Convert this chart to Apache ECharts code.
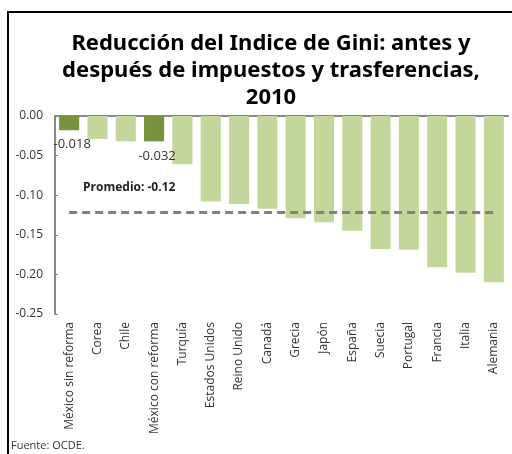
<!DOCTYPE html>
<html>
<head>
<meta charset="utf-8">
<script src="https://cdn.jsdelivr.net/npm/echarts@6/dist/echarts.min.js"></script>
<style>
  html, body { margin: 0; padding: 0; background: #fff; }
  #chart { width: 512px; height: 454px; }
</style>
</head>
<body>
<div id="chart"></div>
<script>
const countries = ['México sin reforma', 'Corea', 'Chile', 'México con reforma', 'Turquía', 'Estados Unidos',
  'Reino Unido', 'Canadá', 'Grecia', 'Japón', 'España', 'Suecia', 'Portugal', 'Francia', 'Italia', 'Alemania']
const reduction = [-0.018, -0.029, -0.032, -0.032, -0.061, -0.108, -0.111, -0.117, -0.129, -0.134, -0.145,
  -0.168, -0.169, -0.191, -0.198, -0.21]
const highlighted = ['México sin reforma', 'México con reforma']
const average = -0.122

const chart = echarts.init(document.getElementById('chart'))

const options = {
  animation: false,
  title: {
    text: 'Reducción del Indice de Gini: antes y\ndespués de impuestos y trasferencias,\n2010',
    left: 266,
    top: 25,
    textAlign: 'center',
    textStyle: { fontFamily: 'Noto Sans', fontWeight: 'bold', fontSize: 22, lineHeight: 27, color: '#000' }
  },
  graphic: [
    { type: 'rect', shape: { x: 8, y: 12, width: 520, height: 460 }, style: { fill: 'none', stroke: '#000', lineWidth: 2 }, silent: true },
    { type: 'text', left: 11, top: 440, style: { text: 'Fuente: OCDE.', font: '11px "Open Sans"', fill: '#333' } },
    { type: 'text', left: 83, top: 182, style: { text: 'Promedio: -0.12', font: 'bold 12px "Open Sans"', fill: '#222' } }
  ],
  grid: { left: 55, right: 4, top: 116, bottom: 140, containLabel: false },
  xAxis: [{
    type: 'category',
    data: countries,
    position: 'bottom',
    axisLine: { show: false },
    axisTick: { show: false },
    axisLabel: { rotate: 90, margin: 8, fontFamily: 'Open Sans', fontSize: 12, color: '#333', interval: 0 }
  }, {
    type: 'category',
    data: countries,
    position: 'top',
    axisLine: { show: true, lineStyle: { color: '#888', width: 2 } },
    axisTick: { show: false },
    axisLabel: { show: false }
  }],
  yAxis: {
    type: 'value',
    min: -0.25,
    max: 0,
    interval: 0.05,
    axisLine: { show: true, lineStyle: { color: '#888', width: 2 } },
    axisTick: { show: true, inside: true, length: 3, lineStyle: { color: '#888' } },
    splitLine: { show: false },
    axisLabel: {
      fontFamily: 'Open Sans', fontSize: 12, color: '#333', margin: 12,
      formatter: v => v.toFixed(2)
    }
  },
  series: [{
    type: 'bar',
    barWidth: '71%',
    data: countries.map((c, i) => {
      const hi = highlighted.includes(c)
      return {
        value: reduction[i],
        itemStyle: { color: hi ? '#77933c' : '#c4d79b' },
        label: hi ? {
          show: true, position: 'bottom', distance: 8, offset: [3, 0],
          fontFamily: 'Open Sans', fontSize: 13, color: '#333',
          formatter: p => String(p.value)
        } : { show: false }
      }
    }),
    markLine: {
      symbol: 'none',
      silent: true,
      label: { show: false },
      lineStyle: { color: '#808080', width: 3, type: [8, 5] },
      data: [[{ coord: [countries[0], average] }, { coord: [countries[countries.length - 1], average] }]]
    }
  }]
}

chart.setOption(options)
</script>
</body>
</html>
